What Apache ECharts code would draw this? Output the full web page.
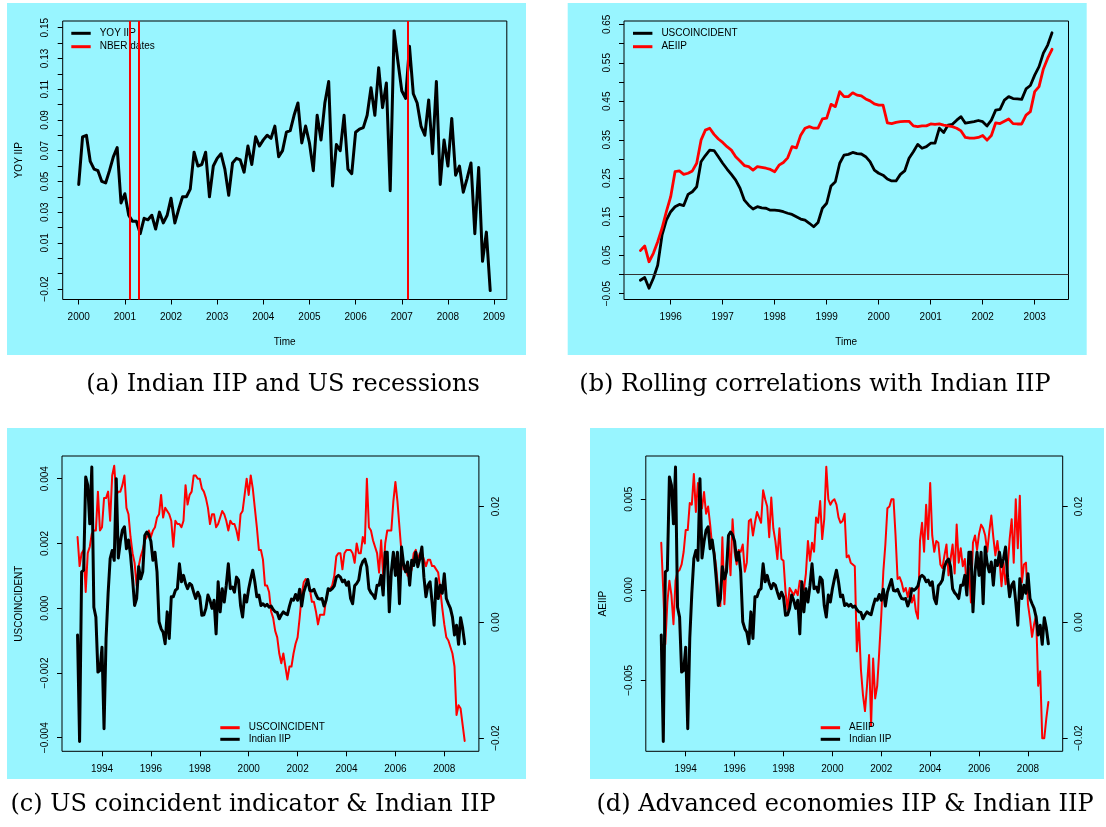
<!DOCTYPE html>
<html>
<head>
<meta charset="utf-8">
<script src="https://cdn.jsdelivr.net/npm/echarts@6/dist/echarts.min.js"></script>
<style>html,body{margin:0;padding:0;background:#fff}#c{width:1106px;height:827px}</style>
</head>
<body>
<div id="c"></div>
<script>
// ---------------- DATA ----------------
// (a) YOY IIP, monthly from Jan 2000
const yoyStart = 2000;
const yoyIIP = [
0.048,0.079,0.080,0.063,0.058,0.057,0.050,0.049,0.057,0.066,0.072,0.036,
0.042,0.028,0.024,0.024,0.016,0.026,0.025,0.028,0.019,0.030,0.023,0.028,
0.039,0.023,0.032,0.040,0.040,0.045,0.069,0.060,0.061,0.069,0.040,0.060,
0.065,0.068,0.058,0.041,0.062,0.065,0.064,0.056,0.073,0.061,0.079,0.073,
0.077,0.080,0.078,0.086,0.066,0.070,0.082,0.083,0.093,0.101,0.075,0.086,
0.075,0.057,0.093,0.077,0.101,0.115,0.047,0.074,0.070,0.093,0.058,0.055,
0.082,0.084,0.085,0.093,0.111,0.093,0.124,0.098,0.114,0.044,0.148,0.128,
0.109,0.104,0.138,0.107,0.101,0.086,0.080,0.103,0.068,0.115,0.048,0.077,
0.060,0.091,0.054,0.060,0.043,0.052,0.062,0.016,0.059,-0.002,0.017,-0.021];
const nberDates = [2001.11, 2001.30, 2007.12];

// (b) rolling correlations, monthly from Jun 1995
const rollStart = 1995 + 5/12;
const rollUS = [
-0.015,-0.008,-0.036,-0.010,0.024,0.102,0.141,0.163,0.176,0.182,0.179,0.208,0.215,0.228,0.293,
0.309,0.323,0.322,0.306,0.289,0.274,0.260,0.245,0.224,0.193,0.180,0.170,0.176,0.173,0.172,
0.167,0.167,0.166,0.163,0.159,0.156,0.150,0.144,0.141,0.133,0.124,0.135,0.172,0.185,0.230,
0.241,0.289,0.310,0.312,0.317,0.314,0.313,0.306,0.293,0.271,0.263,0.258,0.248,0.243,0.243,
0.260,0.269,0.302,0.319,0.338,0.328,0.332,0.341,0.341,0.380,0.369,0.388,0.390,0.401,0.410,
0.393,0.395,0.397,0.400,0.397,0.386,0.401,0.427,0.429,0.453,0.462,0.457,0.456,0.455,0.482,
0.491,0.518,0.540,0.575,0.596,0.628];
const rollAE = [
0.062,0.074,0.033,0.055,0.085,0.120,0.163,0.202,0.267,0.269,0.260,0.263,0.269,0.289,0.349,
0.375,0.380,0.364,0.352,0.343,0.332,0.323,0.306,0.295,0.283,0.280,0.271,0.280,0.278,0.276,
0.273,0.267,0.284,0.291,0.303,0.332,0.329,0.362,0.380,0.384,0.380,0.380,0.404,0.406,0.442,
0.436,0.475,0.462,0.462,0.472,0.466,0.464,0.456,0.451,0.443,0.440,0.440,0.394,0.392,0.395,
0.397,0.398,0.398,0.386,0.384,0.386,0.386,0.391,0.390,0.391,0.388,0.386,0.384,0.380,0.373,
0.356,0.354,0.354,0.356,0.361,0.349,0.361,0.394,0.392,0.398,0.404,0.392,0.391,0.391,0.414,
0.423,0.475,0.488,0.534,0.562,0.585];

// (c),(d) monthly from Jan 1993
const mStart = 1993;
const usCoincident = [
0.0022,0.0013,0.0017,0.0018,0.0005,0.0017,0.0019,0.0023,0.0024,0.0024,
0.0036,0.0024,0.0025,0.0034,0.0034,0.0036,0.0027,0.0041,0.0044,0.0035,
0.0036,0.0036,0.0038,0.0041,0.0031,0.0029,0.0022,0.0017,0.0014,0.0007,
0.0013,0.0016,0.0018,0.0021,0.0022,0.0024,0.0022,0.0024,0.0025,0.0028,
0.0029,0.0035,0.0028,0.0031,0.0030,0.0029,0.0027,0.0019,0.0027,0.0026,
0.0026,0.0025,0.0027,0.0038,0.0032,0.0035,0.0036,0.0041,0.0041,0.0040,
0.0040,0.0037,0.0036,0.0034,0.0031,0.0026,0.0029,0.0029,0.0025,0.0026,
0.0028,0.0030,0.0029,0.0027,0.0024,0.0027,0.0026,0.0026,0.0024,0.0021,
0.0029,0.0030,0.0035,0.0040,0.0035,0.0041,0.0037,0.0031,0.0025,0.0018,
0.0018,0.0015,0.0007,0.0007,0.0005,-0.0001,-0.0003,-0.0007,-0.0009,-0.0014,
-0.0017,-0.0014,-0.0018,-0.0022,-0.0018,-0.0018,-0.0014,-0.0011,-0.0009,-0.0003,
0.0004,0.0008,0.0009,0.0008,0.0006,0.0002,0.0002,-0.0001,-0.0005,-0.0002,
-0.0002,-0.0002,0.0003,0.0005,0.0006,0.0007,0.0010,0.0016,0.0017,0.0017,
0.0012,0.0017,0.0018,0.0018,0.0018,0.0017,0.0014,0.0020,0.0017,0.0017,
0.0022,0.0020,0.0040,0.0025,0.0024,0.0021,0.0019,0.0017,0.0011,0.0021,
0.0010,0.0020,0.0024,0.0024,0.0024,0.0033,0.0039,0.0033,0.0025,0.0017,
0.0012,0.0013,0.0010,0.0010,0.0012,0.0017,0.0018,0.0015,0.0017,0.0017,
0.0015,0.0013,0.0015,0.0015,0.0013,0.0013,0.0012,0.0011,0.0006,0.0000,
-0.0005,-0.0009,-0.0010,-0.0012,-0.0014,-0.0018,-0.0033,-0.0030,-0.0031,-0.0036,
-0.0041];
const indianIIP = [
-0.0022,-0.0206,0.0087,0.0090,0.0251,0.0237,0.0170,0.0268,0.0026,0.0009,
-0.0086,-0.0083,-0.0043,-0.0184,-0.0028,0.0050,0.0110,0.0124,0.0107,0.0248,
0.0111,0.0139,0.0159,0.0165,0.0127,0.0142,0.0116,0.0075,0.0029,0.0041,
0.0096,0.0075,0.0087,0.0150,0.0156,0.0151,0.0140,0.0107,0.0121,0.0087,
0.0001,-0.0011,-0.0017,-0.0037,0.0018,-0.0028,0.0044,0.0044,0.0055,0.0058,
0.0101,0.0070,0.0081,0.0067,0.0058,0.0067,0.0064,0.0052,0.0041,0.0052,
0.0044,0.0012,0.0013,0.0024,0.0047,0.0038,0.0024,0.0038,-0.0020,0.0070,
0.0018,0.0058,0.0035,0.0064,0.0101,0.0058,0.0061,0.0052,0.0078,0.0073,
0.0029,0.0009,0.0047,0.0035,0.0058,0.0075,0.0090,0.0070,0.0044,0.0047,
0.0029,0.0032,0.0028,0.0031,0.0026,0.0028,0.0022,0.0018,0.0017,0.0006,
0.0013,0.0018,0.0015,0.0013,0.0028,0.0040,0.0038,0.0048,0.0038,0.0057,
0.0028,0.0052,0.0063,0.0074,0.0055,0.0054,0.0057,0.0048,0.0041,0.0040,
0.0041,0.0028,0.0038,0.0058,0.0055,0.0058,0.0063,0.0078,0.0081,0.0078,
0.0070,0.0073,0.0064,0.0070,0.0041,0.0032,0.0063,0.0067,0.0073,0.0096,
0.0105,0.0109,0.0096,0.0058,0.0051,0.0047,0.0041,0.0064,0.0064,0.0081,
0.0047,0.0121,0.0121,0.0018,0.0087,0.0121,0.0081,0.0121,0.0032,0.0130,
0.0101,0.0087,0.0104,0.0064,0.0107,0.0098,0.0121,0.0096,0.0110,0.0130,
0.0078,0.0044,0.0064,0.0070,0.0035,-0.0005,0.0075,0.0041,0.0064,0.0050,
0.0084,0.0041,0.0032,0.0024,0.0009,-0.0022,-0.0005,-0.0038,0.0008,-0.0010,
-0.0037];
const aeIIP = [
0.0026,-0.0001,-0.0030,-0.0007,0.0005,-0.0003,-0.0019,0.0005,0.0010,0.0011,
0.0014,0.0021,0.0033,0.0033,0.0048,0.0047,0.0064,0.0043,0.0059,0.0045,
0.0045,0.0054,0.0042,0.0046,0.0036,0.0024,0.0021,0.0012,-0.0001,-0.0009,
0.0029,-0.0008,0.0013,0.0027,0.0008,0.0039,0.0021,0.0014,0.0022,0.0021,
0.0025,0.0010,0.0015,0.0038,0.0039,0.0030,0.0037,0.0043,0.0040,0.0037,
0.0055,0.0050,0.0046,0.0029,0.0051,0.0034,0.0027,0.0017,0.0034,0.0017,
0.0016,-0.0001,-0.0011,0.0001,-0.0001,-0.0003,0.0000,-0.0003,0.0005,0.0004,
0.0000,0.0009,0.0027,0.0016,0.0026,0.0021,0.0040,0.0037,0.0049,0.0028,
0.0039,0.0068,0.0050,0.0047,0.0049,0.0050,0.0047,0.0040,0.0037,0.0038,
0.0042,0.0018,0.0019,0.0015,0.0014,0.0013,-0.0034,-0.0018,-0.0044,-0.0058,
-0.0067,-0.0053,-0.0036,-0.0075,-0.0038,-0.0060,-0.0053,-0.0034,-0.0014,0.0010,
0.0025,0.0045,0.0046,0.0050,0.0050,0.0030,0.0006,0.0007,0.0004,-0.0001,
0.0001,-0.0004,0.0001,-0.0007,-0.0003,-0.0012,-0.0016,0.0027,0.0037,0.0021,
0.0047,0.0028,0.0059,0.0030,0.0021,0.0027,0.0026,0.0014,0.0012,0.0019,
0.0025,0.0008,0.0017,0.0025,0.0009,0.0036,0.0015,0.0023,0.0013,0.0017,
0.0000,0.0012,-0.0007,0.0026,0.0030,0.0022,0.0031,0.0036,0.0034,0.0030,
0.0021,0.0032,0.0041,0.0029,0.0019,0.0027,0.0017,0.0002,0.0015,0.0003,
0.0012,0.0028,0.0039,0.0015,0.0050,0.0023,0.0052,0.0004,0.0014,0.0015,
-0.0008,-0.0016,-0.0026,-0.0019,-0.0014,-0.0053,-0.0045,-0.0082,-0.0082,-0.0071,
-0.0062];

// ---------------- TICKS ----------------
const aXTicks = [2000,2001,2002,2003,2004,2005,2006,2007,2008,2009];
const aYTicks = [-0.02,-0.01,0,0.01,0.02,0.03,0.04,0.05,0.06,0.07,0.08,0.09,0.10,0.11,0.12,0.13,0.14,0.15];
const aYLabels = [-0.02,0.01,0.03,0.05,0.07,0.09,0.11,0.13,0.15];
const bXTicks = [1996,1997,1998,1999,2000,2001,2002,2003];
const bYTicks = [-0.05,0,0.05,0.10,0.15,0.20,0.25,0.30,0.35,0.40,0.45,0.50,0.55,0.60,0.65];
const bYLabels = [-0.05,0.05,0.15,0.25,0.35,0.45,0.55,0.65];
const cdXTicks = [1994,1996,1998,2000,2002,2004,2006,2008];
const cYTicks = [-0.004,-0.002,0,0.002,0.004];
const dYTicks = [-0.005,0,0.005];
const rYTicks = [-0.02,0,0.02];
const captions = ['(a) Indian IIP and US recessions','(b) Rolling correlations with Indian IIP',
                  '(c) US coincident indicator & Indian IIP','(d) Advanced economies IIP & Indian IIP'];

// ---------------- BUILD ----------------
const FONT = '"Liberation Sans", Arial, Helvetica, sans-serif';
const SERIF = '"DejaVu Serif", "Liberation Serif", serif';
const CYAN = '#98F5FF';
const monthly = (s, v) => v.map((y, i) => [s + i / 12, y]);
const fmt = d => v => (v < 0 ? '\u2212' : '') + Math.abs(v).toFixed(d);

function xAx(grid, min, max, ticks, name) {
  return {
    type: 'value', gridIndex: grid, min: min, max: max, position: 'bottom',
    name: name || '', nameLocation: 'middle', nameGap: 38,
    nameTextStyle: {fontSize: 10, fontFamily: FONT, color: '#000'},
    axisLine: {show: false, onZero: false}, splitLine: {show: false},
    axisTick: {show: true, inside: false, length: 5, lineStyle: {color: '#000', width: 1}, customValues: ticks},
    axisLabel: {customValues: ticks, fontSize: 10, fontFamily: FONT, color: '#000', margin: 13,
                formatter: v => String(Math.round(v))}
  };
}
function yAx(grid, min, max, ticks, labels, dec, pos, name) {
  return {
    type: 'value', gridIndex: grid, min: min, max: max, position: pos,
    name: name || '', nameLocation: 'middle', nameGap: 38, nameRotate: 90,
    nameTextStyle: {fontSize: 10, fontFamily: FONT, color: '#000'},
    axisLine: {show: false, onZero: false}, splitLine: {show: false},
    axisTick: {show: true, inside: false, length: 5, lineStyle: {color: '#000', width: 1}, customValues: ticks},
    axisLabel: {customValues: labels, fontSize: 10, fontFamily: FONT, color: '#000', margin: 12,
                rotate: 90, formatter: fmt(dec)}
  };
}
function lineSeries(name, xi, yi, data, color, width, extra) {
  return Object.assign({
    name: name, type: 'line', xAxisIndex: xi, yAxisIndex: yi, data: data,
    symbol: 'none', showSymbol: false, animation: false, silent: true,
    lineStyle: {color: color, width: width, join: 'round', cap: 'round'},
    itemStyle: {color: color}, emphasis: {disabled: true}
  }, extra || {});
}
function legend(left, top, items, gap, lh) {
  return {
    left: left, top: top, orient: 'vertical', padding: 0, itemGap: gap, selectedMode: false,
    itemWidth: 19.4, itemHeight: 3, icon: 'rect',
    textStyle: {fontSize: 10, lineHeight: lh, fontFamily: FONT, color: '#000', padding: [0, 0, 0, 4]},
    data: items.map(it => ({name: it[0], icon: 'rect', itemStyle: {color: it[1]}}))
  };
}
const gridBox = {show: true, borderColor: '#000', borderWidth: 1, backgroundColor: 'transparent'};
const capStyle = t => ({text: t, font: '24px ' + SERIF, fill: '#000', textAlign: 'center',
                        textVerticalAlign: 'middle', verticalAlign: 'middle'});

const option = {
  animation: false,
  backgroundColor: '#fff',
  graphic: [
    {type: 'rect', z: -10, shape: {x: 7, y: 3, width: 519, height: 352}, style: {fill: CYAN}},
    {type: 'rect', z: -10, shape: {x: 567.7, y: 3, width: 519, height: 352}, style: {fill: CYAN}},
    {type: 'rect', z: -10, shape: {x: 7, y: 428, width: 519, height: 351}, style: {fill: CYAN}},
    {type: 'rect', z: -10, shape: {x: 590, y: 428, width: 514, height: 351}, style: {fill: CYAN}},
    {type: 'text', x: 283, y: 385, style: capStyle(captions[0])},
    {type: 'text', x: 815, y: 385, style: capStyle(captions[1])},
    {type: 'text', x: 253, y: 805, style: capStyle(captions[2])},
    {type: 'text', x: 845, y: 805, style: capStyle(captions[3])}
  ],
  grid: [
    Object.assign({left: 62.7, top: 21, width: 444.1, height: 278.5}, gridBox),
    Object.assign({left: 624, top: 21, width: 444.5, height: 278.5}, gridBox),
    Object.assign({left: 62, top: 456, width: 416.9, height: 295.3}, gridBox),
    Object.assign({left: 645.8, top: 456, width: 416.9, height: 295.3}, gridBox)
  ],
  xAxis: [
    xAx(0, 1999.653, 2009.276, aXTicks, 'Time'),
    xAx(1, 1995.102, 2003.65, bXTicks, 'Time'),
    xAx(2, 1992.364, 2009.415, cdXTicks),
    xAx(3, 1992.368, 2009.42, cdXTicks)
  ],
  yAxis: [
    yAx(0, -0.02683, 0.15436, aYTicks, aYLabels, 2, 'left', 'YOY IIP'),
    yAx(1, -0.06507, 0.65857, bYTicks, bYLabels, 2, 'left'),
    yAx(2, -0.00442, 0.004701, cYTicks, cYTicks, 3, 'left', 'USCOINCIDENT'),
    yAx(2, -0.02228, 0.02872, rYTicks, rYTicks, 2, 'right'),
    yAx(3, -0.00892, 0.00739, dYTicks, dYTicks, 3, 'left', 'AEIIP'),
    yAx(3, -0.02228, 0.02872, rYTicks, rYTicks, 2, 'right')
  ],
  legend: [
    legend(71.3, 27.3, [['YOY IIP', '#000'], ['NBER dates', '#f00']], 1.4, 12),
    legend(633, 27.3, [['USCOINCIDENT', '#000'], ['AEIIP', '#f00']], 1.4, 12),
    legend(220.3, 722.2, [['USCOINCIDENT', '#f00'], ['Indian IIP', '#000']], 0.6, 11),
    legend(820.7, 722.2, [['AEIIP', '#f00'], ['Indian IIP', '#000']], 0.6, 11)
  ],
  series: [
    lineSeries('YOY IIP', 0, 0, monthly(yoyStart, yoyIIP), '#000', 3),
    lineSeries('NBER dates', 0, 0, [], '#f00', 2, {
      markLine: {silent: true, symbol: ['none', 'none'], label: {show: false}, animation: false,
                 lineStyle: {color: '#f00', width: 2, type: 'solid'}, emphasis: {disabled: true},
                 data: nberDates.map(d => ({xAxis: d}))}
    }),
    lineSeries('USCOINCIDENT', 1, 1, monthly(rollStart, rollUS), '#000', 2.8),
    lineSeries('AEIIP', 1, 1, monthly(rollStart, rollAE), '#f00', 2.8, {
      markLine: {silent: true, symbol: ['none', 'none'], label: {show: false}, animation: false,
                 lineStyle: {color: '#333', width: 1, type: 'solid'}, emphasis: {disabled: true},
                 data: [{yAxis: 0}]}
    }),
    lineSeries('USCOINCIDENT', 2, 2, monthly(mStart, usCoincident), '#f00', 2),
    lineSeries('Indian IIP', 2, 3, monthly(mStart, indianIIP), '#000', 3),
    lineSeries('AEIIP', 3, 4, monthly(mStart, aeIIP), '#f00', 2),
    lineSeries('Indian IIP', 3, 5, monthly(mStart, indianIIP), '#000', 3)
  ]
};
const chart = echarts.init(document.getElementById('c'));
chart.setOption(option);
</script>
</body>
</html>
